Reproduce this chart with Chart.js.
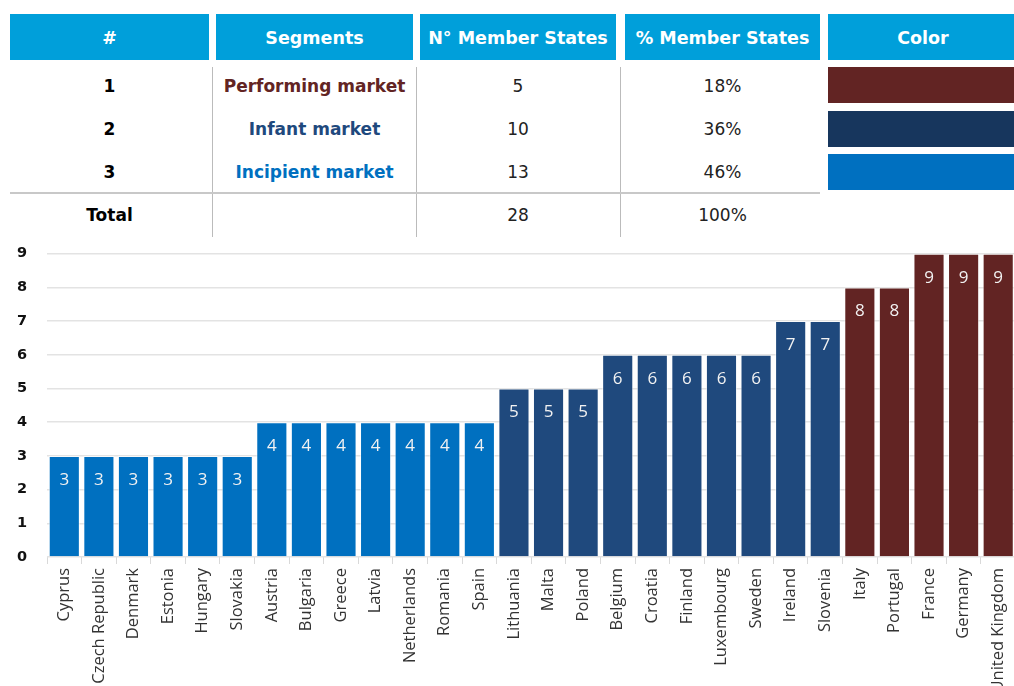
<!DOCTYPE html>
<html>
<head>
<meta charset="utf-8">
<script src="https://cdn.jsdelivr.net/npm/chart.js@4"></script>
<style>
    body { margin: 0; width: 1014px; height: 686px; overflow: hidden; background: #fff; position: relative; font-family: "DejaVu Sans", Verdana, sans-serif; }
    .hd { position: absolute; top: 14px; height: 46px; line-height: 48px; background: #009FDA; color: #fff; font-weight: bold; font-size: 17.5px; text-align: center; white-space: nowrap; }
    .cell { position: absolute; height: 30px; line-height: 30px; text-align: center; font-size: 17px; color: #222; white-space: nowrap; }
    .vl { position: absolute; top: 67px; height: 170px; width: 1px; background: #bbb; }
    .sw { position: absolute; left: 828px; width: 190px; height: 36px; }
    #wrap { position: absolute; left: 0; top: 225px; width: 1022px; height: 461px; }
</style>
</head>
<body>
<div id="table"></div>
<div id="wrap"><canvas id="myChart" width="1022" height="461"></canvas></div>
<script>
// table
let headers = ['#', 'Segments', 'N\u00b0 Member States', '% Member States', 'Color']
let segments = ['Performing market', 'Infant market', 'Incipient market']
let memberCount = [5, 10, 13]
let memberShare = ['18%', '36%', '46%']
let segColors = ['#622423', '#17365D', '#0070C0']
let total = 28
let totalShare = '100%'

// chart
let countries = ['Cyprus', 'Czech Republic', 'Denmark', 'Estonia', 'Hungary', 'Slovakia', 'Austria', 'Bulgaria', 'Greece', 'Latvia', 'Netherlands', 'Romania', 'Spain', 'Lithuania', 'Malta', 'Poland', 'Belgium', 'Croatia', 'Finland', 'Luxembourg', 'Sweden', 'Ireland', 'Slovenia', 'Italy', 'Portugal', 'France', 'Germany', 'United Kingdom']
let values = [3, 3, 3, 3, 3, 3, 4, 4, 4, 4, 4, 4, 4, 5, 5, 5, 6, 6, 6, 6, 6, 7, 7, 8, 8, 9, 9, 9]
let segmentOf = [2, 2, 2, 2, 2, 2, 2, 2, 2, 2, 2, 2, 2, 1, 1, 1, 1, 1, 1, 1, 1, 1, 1, 0, 0, 0, 0, 0]
let barColors = ['#622423', '#1F497D', '#0070C0']
let yTicks = [0, 1, 2, 3, 4, 5, 6, 7, 8, 9]

let colLeft = [10, 216, 420, 625, 828]
let colWidth = [199, 197, 196, 195, 190]
let rowTop = [71, 114, 157, 200]
let html = ''
headers.forEach((h, i) => {
    html += `<div class="hd" style="left:${colLeft[i]}px;width:${colWidth[i]}px">${h}</div>`
})
segments.forEach((s, r) => {
    html += `<div class="cell" style="left:${colLeft[0]}px;width:${colWidth[0]}px;top:${rowTop[r]}px;font-weight:bold;color:#000">${r + 1}</div>`
    html += `<div class="cell" style="left:${colLeft[1]}px;width:${colWidth[1]}px;top:${rowTop[r]}px;font-weight:bold;color:${r == 1 ? '#1F497D' : segColors[r]}">${s}</div>`
    html += `<div class="cell" style="left:${colLeft[2]}px;width:${colWidth[2]}px;top:${rowTop[r]}px">${memberCount[r]}</div>`
    html += `<div class="cell" style="left:${colLeft[3]}px;width:${colWidth[3]}px;top:${rowTop[r]}px">${memberShare[r]}</div>`
    html += `<div class="sw" style="top:${67 + r * 43.5}px;background:${segColors[r]}"></div>`
})
html += `<div class="cell" style="left:${colLeft[0]}px;width:${colWidth[0]}px;top:${rowTop[3]}px;font-weight:bold;color:#000">Total</div>`
html += `<div class="cell" style="left:${colLeft[2]}px;width:${colWidth[2]}px;top:${rowTop[3]}px">${total}</div>`
html += `<div class="cell" style="left:${colLeft[3]}px;width:${colWidth[3]}px;top:${rowTop[3]}px">${totalShare}</div>`
html += '<div class="vl" style="left:212px"></div><div class="vl" style="left:416px"></div><div class="vl" style="left:620px"></div>'
html += '<div style="position:absolute;left:10px;top:192px;width:810px;height:2px;background:#c8c8c8"></div>'
document.getElementById('table').innerHTML = html

// white labels inside bars
const barLabels = {
    id: 'barLabels',
    afterDatasetsDraw(chart) {
        let ctx = chart.ctx
        ctx.save()
        ctx.fillStyle = '#f2f2f2'
        ctx.font = '17px "Open Sans"'
        ctx.textAlign = 'center'
        ctx.textBaseline = 'middle'
        chart.getDatasetMeta(0).data.forEach((bar, i) => {
            ctx.fillText(values[i], bar.x, bar.y + 24)
        })
        ctx.restore()
    }
}

var ctx = document.getElementById('myChart').getContext('2d');
var myChart = new Chart(ctx, {
    type: 'bar',
    data: {
        labels: countries,
        datasets: [{
            data: values,
            backgroundColor: segmentOf.map(s => barColors[s]),
            borderColor: 'rgba(255,255,255,0.6)',
            borderWidth: 1,
            barPercentage: 0.9,
            categoryPercentage: 1
        }]
    },
    options: {
        responsive: false,
        animation: false,
        layout: { padding: { top: 13, right: 0, left: 0, bottom: 0 } },
        plugins: { legend: { display: false }, tooltip: { enabled: false } },
        scales: {
            x: {
                afterFit: (s) => { s.height = 129 },
                grid: { drawOnChartArea: false, tickLength: 7, color: '#d9d9d9', offset: true },
                border: { display: false },
                ticks: {
                    autoSkip: false,
                    minRotation: 90,
                    maxRotation: 90,
                    padding: 4,
                    color: '#333',
                    font: { family: 'Open Sans', size: 16.5 }
                }
            },
            y: {
                min: 0,
                max: 9,
                afterFit: (s) => { s.width = 47 },
                afterBuildTicks: (s) => { s.ticks = yTicks.map(v => ({ value: v })) },
                grid: { color: '#e3e3e3', drawTicks: false, lineWidth: 1.5 },
                border: { display: false },
                ticks: {
                    padding: 20,
                    color: '#111',
                    font: { family: 'DejaVu Sans', size: 14.5, weight: 'bold' }
                }
            }
        }
    },
    plugins: [barLabels]
});
</script>
</body>
</html>
